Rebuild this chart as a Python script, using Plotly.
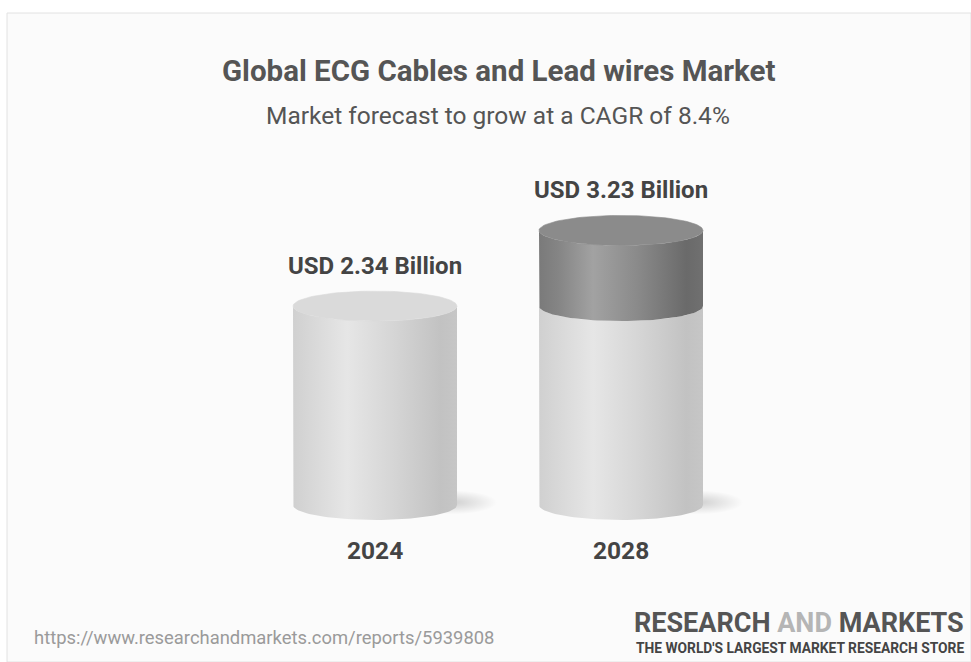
import numpy as np
import plotly.graph_objects as go

# ---- data ----
categories = ["2024", "2028"]
values = [2.34, 3.23]
value_labels = ["USD 2.34 Billion", "USD 3.23 Billion"]
title_text = "Global ECG Cables and Lead wires Market"
subtitle_text = "Market forecast to grow at a CAGR of 8.4%"
source_text = "https://www.researchandmarkets.com/reports/5939808"

# ---- layout constants ----
W, H = 971, 662
PX_PER_X = 246.0
PX_PER_Y = 85.0
x_range = [-375 / PX_PER_X, -375 / PX_PER_X + W / PX_PER_X]
y_min = -(H - 505) / PX_PER_Y
y_range = [y_min, y_min + H / PX_PER_Y]
RX = 82 / PX_PER_X
RY = 15 / PX_PER_Y

light_scale = [[0, "#d0d0d0"], [0.12, "#d8d8d8"], [0.33, "#e6e6e6"], [0.6, "#d6d6d6"], [0.9, "#c2c2c2"], [1, "#c6c6c6"]]
dark_scale = [[0, "#7a7a7a"], [0.12, "#858585"], [0.33, "#a2a2a2"], [0.6, "#8a8a8a"], [0.9, "#6a6a6a"], [1, "#707070"]]
light_top = "#dadada"
dark_top = "#8b8b8b"

fig = go.Figure()


def arc_lower(cx, y0, left_to_right=True):
    t = np.linspace(np.pi, 2 * np.pi, 60)
    if not left_to_right:
        t = t[::-1]
    return cx + RX * np.cos(t), y0 + RY * np.sin(t)


def segment(cx, y_bot, y_top, scale):
    ax, ay = arc_lower(cx, y_bot, True)
    bx, by = arc_lower(cx, y_top, False)
    xs = np.concatenate([[cx - RX, cx - RX], ax, [cx + RX], bx])
    ys = np.concatenate([[y_top, y_bot], ay, [y_top], by])
    fig.add_trace(go.Scatter(x=xs, y=ys, mode="lines", fill="toself",
                             fillgradient=dict(type="horizontal", colorscale=scale),
                             line=dict(width=0), hoverinfo="skip", showlegend=False))


def top_ellipse(cx, y0, color):
    t = np.linspace(0, 2 * np.pi, 120)
    fig.add_trace(go.Scatter(x=cx + RX * np.cos(t), y=y0 + RY * np.sin(t), mode="lines",
                             fill="toself", fillcolor=color, line=dict(width=0.6, color=color),
                             hoverinfo="skip", showlegend=False))


def shadow(cx):
    t = np.linspace(0, 2 * np.pi, 80)
    sx = cx + RX * 0.95 + 0.18 * np.cos(t)
    sy = 0.03 + RY * 0.8 * np.sin(t)
    fig.add_trace(go.Scatter(x=sx, y=sy, mode="lines", fill="toself",
                             fillgradient=dict(type="radial",
                                               colorscale=[[0, "rgba(0,0,0,0.17)"], [1, "rgba(0,0,0,0)"]]),
                             line=dict(width=0), hoverinfo="skip", showlegend=False))


base_level = values[0]
for i, v in enumerate(values):
    shadow(i)
for i, v in enumerate(values):
    light_h = min(v, base_level)
    segment(i, 0, light_h, light_scale)
    if v > base_level:
        segment(i, base_level, v, dark_scale)
        top_ellipse(i, v, dark_top)
    else:
        top_ellipse(i, v, light_top)

annotations = []
for i, (v, lab, cat) in enumerate(zip(values, value_labels, categories)):
    annotations.append(dict(x=i, y=v, xref="x", yref="y", text=f"<b>{lab}</b>", showarrow=False,
                            yshift=40, yanchor="middle",
                            font=dict(family="Roboto", size=24, color="#444444")))
    annotations.append(dict(x=i, y=0, xref="x", yref="y", text=f"<b>{cat}</b>", showarrow=False,
                            yshift=-45, yanchor="middle",
                            font=dict(family="Roboto", size=24.5, color="#444444")))

annotations += [
    dict(x=498 / W, y=1 - 71 / H, xref="paper", yref="paper", xanchor="center", yanchor="middle",
         text=f"<b>{title_text}</b>", showarrow=False,
         font=dict(family="Roboto", size=29.5, color="#555555")),
    dict(x=498 / W, y=1 - 116 / H, xref="paper", yref="paper", xanchor="center", yanchor="middle",
         text=subtitle_text, showarrow=False,
         font=dict(family="Roboto", size=24.5, color="#555555")),
    dict(x=32 / W, y=1 - 637 / H, xref="paper", yref="paper", xanchor="left", yanchor="middle",
         text=source_text, showarrow=False,
         font=dict(family="Roboto", size=18.4, color="#9a9a9a")),
    dict(x=966 / W, y=1 - 623 / H, xref="paper", yref="paper", xanchor="right", yanchor="middle",
         text="<b>RESEARCH <span style='color:#b5b5b5'>AND</span> MARKETS</b>",
         showarrow=False, font=dict(family="Roboto", size=27, color="#555555")),
    dict(x=966 / W, y=1 - 648 / H, xref="paper", yref="paper", xanchor="right", yanchor="middle",
         text="<b>THE WORLD'S LARGEST MARKET RESEARCH STORE</b>",
         showarrow=False, font=dict(family="Roboto", size=13.8, color="#444444")),
]

fig.update_layout(
    width=W, height=H,
    margin=dict(l=0, r=0, t=0, b=0),
    paper_bgcolor="#ffffff", plot_bgcolor="rgba(0,0,0,0)",
    xaxis=dict(range=x_range, visible=False, fixedrange=True),
    yaxis=dict(range=y_range, visible=False, fixedrange=True),
    annotations=annotations,
    shapes=[dict(type="rect", xref="paper", yref="paper", x0=7 / W, y0=0, x1=1.0, y1=1 - 13 / H,
                 fillcolor="#fbfbfb", line=dict(color="#e2e2e2", width=1), layer="below")],
    showlegend=False,
)

fig.write_html("out.html", config={"displayModeBar": False},
               post_script="document.body.style.margin='0';document.body.style.overflow='hidden';")
